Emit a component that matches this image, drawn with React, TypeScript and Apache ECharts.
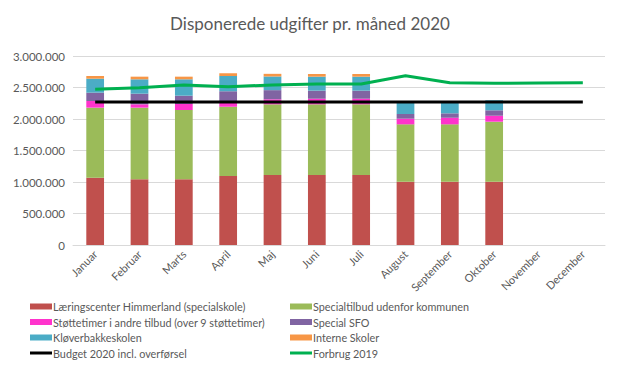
import React, { useEffect, useRef } from "react";
import * as echarts from "echarts";

const months = ["Januar", "Februar", "Marts", "April", "Maj", "Juni", "Juli", "August", "September", "Oktober", "November", "December"];
const laeringscenter = [1068000, 1043000, 1043000, 1095000, 1111000, 1111000, 1111000, 1005000, 1005000, 1005000, null, null];
const specialtilbud = [1112000, 1137000, 1100000, 1100000, 1122000, 1122000, 1122000, 910000, 910000, 952000, null, null];
const stoettetimer = [106000, 53000, 95000, 80000, 80000, 89000, 89000, 90000, 105000, 95000, null, null];
const specialSFO = [132000, 169000, 132000, 165000, 145000, 128000, 128000, 74000, 70000, 86000, null, null];
const kloeverbakke = [222000, 228000, 260000, 243000, 217000, 222000, 222000, 176000, 165000, 159000, null, null];
const interne = [43000, 42000, 42000, 42000, 42000, 42000, 42000, 0, 0, 0, null, null];
const budget = [2270000, 2270000, 2270000, 2270000, 2270000, 2270000, 2270000, 2270000, 2270000, 2270000, 2270000, 2270000];
const forbrug2019 = [2471000, 2497000, 2540000, 2513000, 2540000, 2556000, 2556000, 2688000, 2576000, 2567000, 2572000, 2576000];
const yTicks = [0, 500000, 1000000, 1500000, 2000000, 2500000, 3000000];

const seriesNames = [
  "Læringscenter Himmerland (specialskole)",
  "Specialtilbud udenfor kommunen",
  "Støttetimer i andre tilbud (over 9 støttetimer)",
  "Special SFO",
  "Kløverbakkeskolen",
  "Interne Skoler",
  "Budget 2020 incl. overførsel",
  "Forbrug 2019",
];
const colors = ["#C0504D", "#9BBB59", "#FF33CC", "#8064A2", "#4BACC6", "#F79646", "#000000", "#00B050"];

const FONT = "Lato";
const TXT = "#595959";

function fmt(v: number) {
  return String(v).replace(/\B(?=(\d{3})+(?!\d))/g, ".");
}

export default function App() {
  const ref = useRef<HTMLDivElement>(null);
  useEffect(() => {
    if (!ref.current) return;
    const chart = echarts.init(ref.current, undefined, { renderer: "svg" });
    const bar = (i: number, data: any[]) => ({
      name: seriesNames[i],
      type: "bar",
      stack: "total",
      data,
      barWidth: "40%",
      itemStyle: { color: colors[i] },
    });
    const line = (i: number, data: any[]) => ({
      name: seriesNames[i],
      type: "line",
      data,
      symbol: "none",
      lineStyle: { color: colors[i], width: 3 },
      itemStyle: { color: colors[i] },
    });
    const legends = seriesNames.map((name, i) => ({
      left: i % 2 === 0 ? 30 : 290,
      top: 301 + Math.floor(i / 2) * 15.5,
      itemWidth: 22,
      itemHeight: i >= 6 ? 3 : 6,
      padding: 0,
      textStyle: { fontFamily: FONT, fontSize: 10.8, color: TXT, padding: [0, 0, 0, -4] },
      data: [{ name, icon: "rect" }],
    }));
    chart.setOption({
      animation: false,
      title: {
        text: "Disponerede udgifter pr. måned 2020",
        left: "center",
        top: 10,
        textStyle: { fontFamily: FONT, fontSize: 17, fontWeight: "normal", color: TXT },
      },
      legend: legends,
      grid: { left: 73, right: 15, top: 56, bottom: 120, containLabel: false },
      xAxis: {
        type: "category",
        data: months,
        boundaryGap: true,
        axisLine: { lineStyle: { color: "#D9D9D9" } },
        axisTick: { show: false },
        axisLabel: { rotate: 45, fontFamily: FONT, fontSize: 11, color: TXT, margin: 7, interval: 0 },
      },
      yAxis: {
        type: "value",
        min: yTicks[0],
        max: yTicks[yTicks.length - 1],
        interval: 500000,
        axisLine: { show: false },
        axisTick: { show: false },
        splitLine: { lineStyle: { color: "#D9D9D9" } },
        axisLabel: { fontFamily: FONT, fontSize: 11.5, color: TXT, margin: 8, formatter: (v: number) => fmt(v) },
      },
      series: [
        bar(0, laeringscenter),
        bar(1, specialtilbud),
        bar(2, stoettetimer),
        bar(3, specialSFO),
        bar(4, kloeverbakke),
        bar(5, interne),
        line(6, budget),
        line(7, forbrug2019),
      ],
    });
    return () => chart.dispose();
  }, []);
  return <div ref={ref} style={{ width: 620, height: 365, position: "absolute", left: 0, top: 0 }} />;
}
